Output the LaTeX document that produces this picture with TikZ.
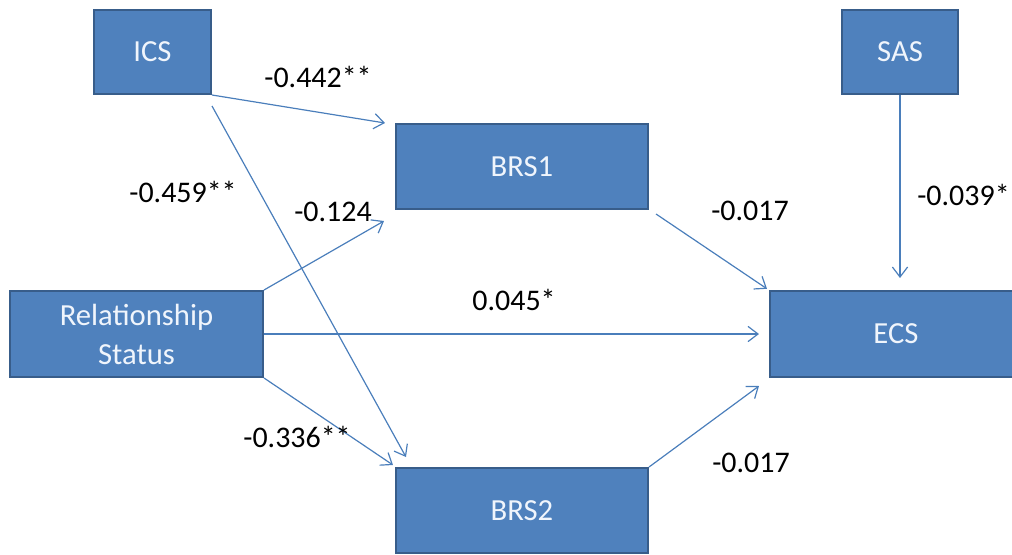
\documentclass[tikz,border=0pt]{standalone}
\usepackage{fontspec}
\setmainfont{Carlito}
\usepackage{tikz}
\usetikzlibrary{positioning,arrows.meta}
\definecolor{boxblue}{RGB}{79,129,189}
\definecolor{boxedge}{RGB}{56,93,138}
\definecolor{linkblue}{RGB}{74,126,187}
\definecolor{boxtext}{RGB}{240,245,252}

\begin{document}
\begin{tikzpicture}[x=0.025cm, y=-0.025cm, >={Straight Barb[length=0.25cm,width=0.38cm]},
    box/.style={draw=boxedge, line width=1.4pt, fill=boxblue, text=boxtext, align=center,
        inner sep=0pt, font=\fontsize{21.8}{27.7}\selectfont},
    coef/.style={inner sep=0pt, font=\fontsize{21.3}{25}\selectfont},
    link/.style={->, draw=linkblue, line width=0.85pt}]
    \useasboundingbox (0,0) rectangle (1012,554);

    \node[box, minimum width=2.925cm, minimum height=2.1cm] (ics) at (152.5,52) {ICS};
    \node[box, minimum width=2.9cm, minimum height=2.1cm] (sas) at (900,52) {SAS};
    \node[box, minimum width=6.3cm, minimum height=2.125cm] (brs1) at (522,166.5) {BRS1};
    \node[box, minimum width=6.3cm, minimum height=2.125cm] (brs2) at (522,510.5) {BRS2};
    \node[box, minimum width=6.325cm, minimum height=2.15cm] (rel) at (136.5,334) {Relationship\\Status};
    \node[box, minimum width=6.3cm, minimum height=2.15cm] (ecs) at (896,334) {ECS};

    % paths and coefficients
    \draw[link] (ics.south east) -- ([xshift=-0.25cm]brs1.north west);
    \draw[link] ([yshift=-0.275cm]ics.south east) -- ([xshift=0.275cm,yshift=0.25cm]brs2.north west);
    \draw[link] (rel.north east) -- ([xshift=-0.275cm,yshift=-0.275cm]brs1.south west);
    \draw[link] (rel.east) -- ([xshift=-0.25cm]ecs.west);
    \draw[link] (rel.south east) -- ([xshift=-0.05cm,yshift=0.05cm]brs2.north west);
    \draw[link] ([xshift=0.175cm,yshift=-0.1cm]brs1.south east) -- ([xshift=-0.05cm,yshift=0.03cm]ecs.north west);
    \draw[link] (brs2.north east) -- ([xshift=-0.25cm,yshift=-0.2cm]ecs.south west);
    \draw[link, shorten >=0.3cm] (sas.south) -- (sas.south |- ecs.north);

    \node[coef] (cIcsBrs1) at (318,77) {-0.442**};
    \node[coef] (cIcsBrs2) at (183,192) {-0.459**};
    \node[coef] (cRelBrs1) at (333,212) {-0.124};
    \node[coef] (cRelEcs) at (514,300) {0.045*};
    \node[coef] (cRelBrs2) at (297,437) {-0.336**};
    \node[coef] (cBrs1Ecs) at (750,211) {-0.017};
    \node[coef] (cBrs2Ecs) at (751,463) {-0.017};
    \node[coef, anchor=west] (cSasEcs) at (917,195) {-0.039*};
\end{tikzpicture}
\end{document}
